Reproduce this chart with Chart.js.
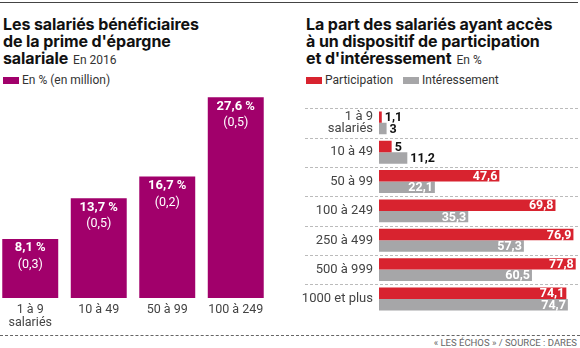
<!DOCTYPE html>
<html lang="fr">
<head>
<meta charset="utf-8">
<script src="https://cdn.jsdelivr.net/npm/chart.js@4/dist/chart.umd.min.js"></script>
<style>
  body { margin: 0; width: 580px; height: 348px; background: #fff; position: relative; overflow: hidden; font-family: Roboto, "Liberation Sans", sans-serif; color: #222; }
  .rule { position: absolute; left: 0; top: 2px; width: 578px; height: 1px; background: #444; }
  .title { position: absolute; top: 16px; font-family: Inter, Roboto, sans-serif; font-weight: bold; font-size: 16px; line-height: 17px; color: #111; letter-spacing: -0.1px; }
  .title span { font-family: Roboto, sans-serif; font-weight: normal; font-size: 12px; color: #333; margin-left: 5px; letter-spacing: 0; }
  .legend { position: absolute; top: 73px; font-size: 12px; color: #333; display: flex; align-items: center; }
  .legend i { display: inline-block; width: 16px; height: 7px; margin-right: 3px; }
  .dash { position: absolute; left: 0; top: 335px; width: 580px; border-top: 1px dashed #666; }
  .source { position: absolute; right: 3px; top: 337px; font-size: 9.5px; color: #666; }
  #left { position: absolute; left: -4px; top: 90px; }
  #right { position: absolute; left: 290px; top: 96px; }
</style>
</head>
<body>
<div class="rule"></div>
<div class="title" style="left:3px">Les salariés bénéficiaires<br>de la prime d'épargne<br>salariale<span>En 2016</span></div>
<div class="legend" style="left:3px"><i style="background:#a1006b"></i>En % (en million)</div>
<div class="title" style="left:306px">La part des salariés ayant accès<br>à un dispositif de participation<br>et d'intéressement<span>En %</span></div>
<div class="legend" style="left:306px"><i style="background:#d8232f"></i>Participation<i style="background:#a6a6a8;margin-left:10px"></i>Intéressement</div>
<canvas id="left" width="274" height="240"></canvas>
<canvas id="right" width="290" height="236"></canvas>
<div class="dash"></div>
<div class="source">« LES ÉCHOS » / SOURCE : DARES</div>
<script>
const primeLabels = [["1 à 9", "salariés"], "10 à 49", "50 à 99", "100 à 249"];
const primeShare = [8.1, 13.7, 16.7, 27.6];
const primeMillions = [0.3, 0.5, 0.2, 0.5];

const accesLabels = [["1 à 9", "salariés"], "10 à 49", "50 à 99", "100 à 249", "250 à 499", "500 à 999", "1000 et plus"];
const participation = [1.1, 5, 47.6, 69.8, 76.9, 77.8, 74.1];
const interessement = [3, 11.2, 22.1, 35.3, 57.3, 60.5, 74.7];

const fr = (v) => String(v).replace(".", ",");

const primeLabelsPlugin = {
  id: "primeLabels",
  afterDatasetsDraw(chart) {
    const ctx = chart.ctx;
    const meta = chart.getDatasetMeta(0);
    ctx.save();
    ctx.fillStyle = "#fff";
    ctx.textAlign = "center";
    ctx.textBaseline = "middle";
    meta.data.forEach((bar, i) => {
      ctx.font = "bold 13px Roboto, sans-serif";
      ctx.fillText(fr(primeShare[i]) + " %", bar.x, bar.y + 9);
      ctx.font = "12.5px Roboto, sans-serif";
      ctx.fillText("(" + fr(primeMillions[i]) + ")", bar.x, bar.y + 26);
    });
    ctx.restore();
  },
};

new Chart(document.getElementById("left"), {
  type: "bar",
  data: {
    labels: primeLabels,
    datasets: [{ data: primeShare, backgroundColor: "#a1006b", barPercentage: 0.817, categoryPercentage: 1 }],
  },
  options: {
    responsive: false,
    animation: false,
    layout: { padding: 0 },
    plugins: { legend: { display: false }, tooltip: { enabled: false } },
    scales: {
      x: {
        grid: { display: false, drawTicks: false },
        border: { display: false },
        ticks: { color: "#444", font: { family: "Roboto", size: 12.5, lineHeight: 1 }, padding: 6 },
        afterFit(s) { s.height = 32; },
      },
      y: { display: false, min: 0, max: 28.6 },
    },
  },
  plugins: [primeLabelsPlugin],
});

const accesPlugin = {
  id: "accesDecor",
  beforeDatasetsDraw(chart) {
    const ctx = chart.ctx;
    const y = chart.scales.y;
    const pitch = y.getPixelForValue(1) - y.getPixelForValue(0);
    ctx.save();
    ctx.strokeStyle = "#bbb";
    ctx.lineWidth = 1;
    ctx.setLineDash([3, 2]);
    accesLabels.forEach((_, i) => {
      const py = Math.round(y.getPixelForValue(i) - pitch / 2) + 0.5;
      ctx.beginPath();
      ctx.moveTo(15, py);
      ctx.lineTo(chart.width, py);
      ctx.stroke();
    });
    ctx.restore();
  },
  afterDatasetsDraw(chart) {
    const ctx = chart.ctx;
    ctx.save();
    ctx.font = "bold 12.5px Roboto, sans-serif";
    ctx.textBaseline = "middle";
    [participation, interessement].forEach((values, d) => {
      chart.getDatasetMeta(d).data.forEach((bar, i) => {
        const txt = fr(values[i]);
        const w = ctx.measureText(txt).width;
        const len = bar.x - bar.base;
        if (len > w + 6) {
          ctx.fillStyle = "#fff";
          ctx.textAlign = "right";
          ctx.fillText(txt, bar.x - 2, bar.y + 1);
        } else {
          ctx.fillStyle = "#111";
          ctx.textAlign = "left";
          ctx.fillText(txt, bar.x + 3, bar.y + 1);
        }
      });
    });
    ctx.restore();
  },
};

new Chart(document.getElementById("right"), {
  type: "bar",
  data: {
    labels: accesLabels,
    datasets: [
      { label: "Participation", data: participation, backgroundColor: "#d8232f" },
      { label: "Intéressement", data: interessement, backgroundColor: "#a6a6a8" },
    ],
  },
  options: {
    indexAxis: "y",
    responsive: false,
    animation: false,
    layout: { padding: { top: 5, bottom: 4 } },
    datasets: { bar: { categoryPercentage: 0.78, barPercentage: 1 } },
    plugins: { legend: { display: false }, tooltip: { enabled: false } },
    scales: {
      x: { display: false, min: 0, max: 79.5 },
      y: {
        grid: { display: false, drawTicks: false },
        border: { display: false },
        ticks: { color: "#444", font: { family: "Roboto", size: 13, lineHeight: 0.95 }, padding: 6 },
        afterFit(s) { s.width = 89; },
      },
    },
  },
  plugins: [accesPlugin],
});
</script>
</body>
</html>
